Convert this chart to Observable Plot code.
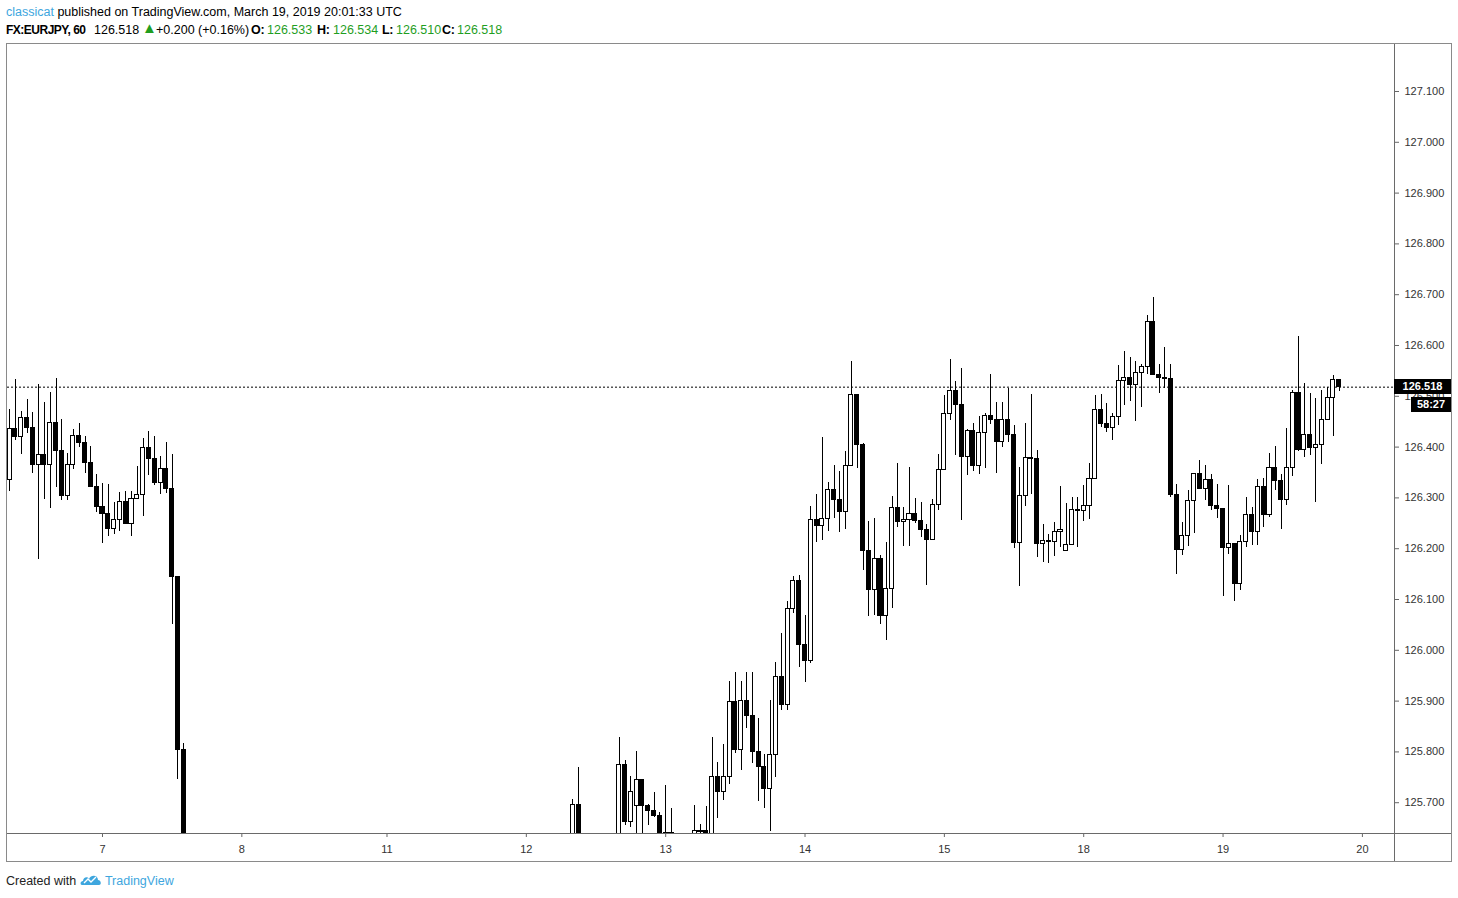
<!DOCTYPE html>
<html><head><meta charset="utf-8">
<script src="https://cdn.jsdelivr.net/npm/d3@7"></script>
<script src="https://cdn.jsdelivr.net/npm/@observablehq/plot@0.6"></script>
<style>
html,body{margin:0;padding:0;background:#fff;}
body{width:1458px;height:898px;position:relative;overflow:hidden;font-family:"Liberation Sans",Arial,sans-serif;color:#000;}
.hl{position:absolute;left:6px;font-size:12.5px;line-height:14px;white-space:nowrap;}
.hs{position:absolute;top:23px;font-size:12.5px;line-height:14px;white-space:nowrap;}
.g{color:#1f9e1f;}
.b{font-weight:bold;letter-spacing:-0.3px;}
#frame{position:absolute;left:6px;top:43px;width:1444px;height:817px;border:1px solid #8a8a8a;}
.sep{position:absolute;background:#6a6a6a;}
#chart{position:absolute;left:0;top:40px;}
.tag{position:absolute;background:#000;color:#fff;font-weight:bold;font-size:11px;text-align:center;line-height:15px;height:15px;}
#foot{position:absolute;left:6px;top:873px;font-size:12.5px;line-height:14px;white-space:nowrap;color:#222;}
</style></head>
<body>
<div class="hl" style="top:5px"><span style="color:#3ea6de">classicat</span> published on TradingView.com, March 19, 2019 20:01:33 UTC</div>
<span class="hs b" style="left:6px;font-size:12px;letter-spacing:-0.5px">FX:EURJPY, 60</span>
<span class="hs" style="left:94px">126.518</span>
<span class="hs g" style="left:142px;font-size:15px;top:21px">▲</span>
<span class="hs" style="left:156px">+0.200 (+0.16%)</span>
<span class="hs b" style="left:251px">O:</span><span class="hs g" style="left:267px">126.533</span>
<span class="hs b" style="left:317px">H:</span><span class="hs g" style="left:333px">126.534</span>
<span class="hs b" style="left:382px">L:</span><span class="hs g" style="left:396px">126.510</span>
<span class="hs b" style="left:442px">C:</span><span class="hs g" style="left:457px">126.518</span>
<div id="frame"></div>
<div id="chart"></div>
<div id="foot">Created with <svg width="22" height="14" viewBox="0 0 22 14" style="vertical-align:-2px"><path d="M2 12 C0 12 0 8 3 8 C3 4 8 3 9 6 C11 1 18 2 18 7 C21 7 22 12 19 12 Z" fill="#3ea6de"/><polyline points="4,10 8,6 11,9 16,4" fill="none" stroke="#fff" stroke-width="1.4"/></svg> <span style="color:#3ea6de">TradingView</span></div>
<script>
// hourly bar index: 0 = March 7, 00:00 UTC (gaps = bars outside the visible price range)
const barIndex = [-16,-15,-14,-13,-12,-11,-10,-9,-8,-7,-6,-5,-4,-3,-2,-1,0,1,2,3,4,5,6,7,8,9,10,11,12,13,14,
81,82,89,90,91,92,93,94,95,96,97,98,
102,103,104,105,106,107,108,109,110,111,112,113,114,115,116,117,118,119,120,
121,122,123,124,125,126,127,128,129,130,131,132,133,134,135,136,137,138,139,140,
141,142,143,144,145,146,147,148,149,150,151,152,153,154,155,156,157,158,159,160,
161,162,163,164,165,166,167,168,169,170,171,172,173,174,175,176,177,178,179,180,
181,182,183,184,185,186,187,188,189,190,191,192,193,194,195,196,197,198,199,200,
201,202,203,204,205,206,207,208,209,210,211,212,213];
const openP = [126.336,126.436,126.420,126.458,126.438,126.364,126.385,126.364,126.448,126.393,126.303,126.364,126.422,126.408,126.368,126.321,126.282,126.268,126.238,126.257,126.292,126.248,126.298,126.305,126.399,126.376,126.329,126.357,126.317,126.144,125.803,
125.600,125.696,125.600,125.775,125.662,125.693,125.745,125.694,125.683,125.673,125.630,125.641,
125.630,125.643,125.645,125.610,125.751,125.721,125.751,125.899,125.803,125.901,125.870,125.799,125.770,125.727,125.793,125.948,125.893,126.082,126.137,
126.011,125.979,126.257,126.245,126.259,126.316,126.296,126.272,126.363,126.503,126.405,126.195,126.118,126.180,126.067,126.121,126.281,126.252,126.257,126.269,
126.254,126.236,126.218,126.286,126.355,126.466,126.511,126.483,126.380,126.432,126.362,126.428,126.462,126.454,126.410,126.454,126.423,126.211,126.304,126.379,
126.376,126.209,126.216,126.213,126.233,126.196,126.208,126.277,126.275,126.284,126.338,126.473,126.446,126.437,126.460,126.531,126.536,126.522,126.546,126.558,
126.647,126.542,126.537,126.534,126.305,126.197,126.225,126.294,126.347,126.317,126.336,126.284,126.278,126.201,126.210,126.130,126.214,126.267,126.232,126.322,
126.267,126.359,126.334,126.296,126.359,126.507,126.395,126.424,126.399,126.405,126.454,126.497,126.533];
const highP = [126.474,126.534,126.470,126.494,126.469,126.523,126.487,126.507,126.536,126.454,126.387,126.434,126.446,126.421,126.401,126.347,126.328,126.326,126.291,126.311,126.313,126.313,126.362,126.417,126.431,126.421,126.381,126.409,126.385,126.144,125.817,
125.706,125.769,125.829,125.784,125.752,125.801,125.745,125.696,125.720,125.681,125.733,125.689,
125.694,125.657,125.692,125.828,125.779,125.815,125.939,125.956,125.939,125.956,125.956,125.865,125.795,125.901,125.976,126.033,126.096,126.145,126.147,
126.069,126.283,126.306,126.419,126.330,126.363,126.352,126.391,126.569,126.504,126.408,126.254,126.259,126.187,126.212,126.303,126.368,126.282,126.360,126.298,
126.290,126.248,126.296,126.385,126.502,126.572,126.529,126.555,126.435,126.446,126.460,126.466,126.543,126.488,126.488,126.515,126.443,126.359,126.446,126.504,
126.393,126.248,126.227,126.252,126.322,126.289,126.301,126.301,126.324,126.368,126.501,126.503,126.485,126.466,126.560,126.588,126.576,126.569,126.563,126.659,
126.694,126.563,126.596,126.563,126.326,126.251,126.314,126.347,126.374,126.364,126.346,126.326,126.278,126.324,126.210,126.226,126.301,126.281,126.336,126.338,
126.387,126.401,126.347,126.436,126.511,126.618,126.525,126.506,126.496,126.511,126.518,126.540,126.534];
const lowP = [126.313,126.413,126.385,126.427,126.349,126.178,126.297,126.279,126.321,126.294,126.295,126.355,126.400,126.349,126.320,126.272,126.211,126.224,126.228,126.234,126.247,126.224,126.298,126.264,126.344,126.324,126.307,126.309,126.051,125.746,125.580,
125.580,125.580,125.580,125.655,125.652,125.600,125.600,125.656,125.671,125.620,125.600,125.600,
125.600,125.600,125.600,125.590,125.669,125.704,125.736,125.797,125.763,125.847,125.778,125.703,125.689,125.644,125.750,125.881,125.881,126.072,125.966,
125.937,125.975,126.213,126.217,126.234,126.260,126.232,126.238,126.363,126.358,126.158,126.067,126.069,126.050,126.019,126.083,126.241,126.205,126.205,126.250,
126.223,126.128,126.218,126.276,126.355,126.453,126.384,126.256,126.345,126.351,126.347,126.357,126.444,126.349,126.400,126.410,126.201,126.126,126.284,126.307,
126.183,126.173,126.171,126.185,126.203,126.196,126.208,126.203,126.254,126.258,126.338,126.439,126.429,126.413,126.443,126.482,126.490,126.450,126.477,126.542,
126.542,126.506,126.516,126.300,126.149,126.187,126.204,126.229,126.317,126.294,126.275,126.260,126.105,126.189,126.097,126.118,126.203,126.206,126.206,126.242,
126.262,126.315,126.238,126.285,126.343,126.392,126.380,126.384,126.290,126.366,126.454,126.421,126.510];
const closeP = [126.436,126.420,126.458,126.438,126.364,126.385,126.364,126.448,126.393,126.303,126.364,126.422,126.408,126.368,126.321,126.282,126.268,126.238,126.257,126.292,126.248,126.298,126.305,126.399,126.376,126.329,126.357,126.317,126.144,125.803,125.600,
125.696,125.600,125.775,125.662,125.722,125.745,125.693,125.683,125.673,125.640,125.641,125.635,
125.645,125.645,125.632,125.751,125.721,125.751,125.899,125.803,125.901,125.870,125.799,125.770,125.727,125.793,125.948,125.893,126.082,126.137,126.011,
125.979,126.257,126.245,126.259,126.316,126.296,126.272,126.363,126.503,126.405,126.195,126.118,126.180,126.067,126.121,126.281,126.252,126.257,126.269,126.254,
126.236,126.218,126.286,126.355,126.466,126.511,126.483,126.380,126.432,126.362,126.428,126.462,126.454,126.410,126.454,126.423,126.211,126.304,126.379,126.376,
126.209,126.216,126.213,126.233,126.237,126.208,126.277,126.275,126.284,126.338,126.473,126.446,126.437,126.460,126.531,126.536,126.522,126.546,126.558,126.647,
126.542,126.537,126.534,126.305,126.197,126.225,126.294,126.347,126.317,126.336,126.284,126.278,126.201,126.210,126.130,126.214,126.267,126.232,126.322,126.267,
126.359,126.334,126.296,126.359,126.507,126.395,126.424,126.399,126.405,126.454,126.497,126.533,126.518];
const dayTickIndex = [0,24,49,73,97,121,145,169,193,217];
const dayTickLabels = ["7","8","11","12","13","14","15","18","19","20"];
const priceTicks = [125.7,125.8,125.9,126.0,126.1,126.2,126.3,126.4,126.5,126.6,126.7,126.8,126.9,127.0,127.1];
const lastPrice = 126.518;
const countdown = "58:27";

const bars = barIndex.map((k,i)=>({k, o:openP[i], h:highP[i], l:lowP[i], c:closeP[i]}));
const upBars = bars.filter(d=>d.c>=d.o);
const downBars = bars.filter(d=>d.c<d.o);
const xDom = [-16.362, 222.53];
const yDom = [125.6394, 127.1925];
const W = 1458, H = 825, mT = 4, mB = 32, mL = 7, mR = 64, top0 = 40;

const chart = Plot.plot({
  width: W, height: H, marginTop: mT, marginBottom: mB, marginLeft: mL, marginRight: mR,
  style: {fontFamily: '"Liberation Sans", Arial, sans-serif', fontSize: "11px", color: "#333", background: "transparent", overflow: "visible"},
  x: {type: "linear", domain: xDom},
  y: {type: "linear", domain: yDom},
  marks: [
    Plot.ruleY([lastPrice], {stroke: "#000", strokeDasharray: "2,2", strokeWidth: 1}),
    Plot.ruleX(bars, {x: "k", y1: "l", y2: "h", stroke: "#000", strokeWidth: 1, clip: true, shapeRendering: "crispEdges"}),
    Plot.rect(upBars, {x1: d=>d.k-0.35, x2: d=>d.k+0.35, y1: "o", y2: "c", fill: "#fff", stroke: "#000", strokeWidth: 1, clip: true, shapeRendering: "crispEdges"}),
    Plot.rect(downBars, {x1: d=>d.k-0.35, x2: d=>d.k+0.35, y1: "o", y2: "c", fill: "#000", stroke: "#000", strokeWidth: 1, clip: true, shapeRendering: "crispEdges"}),
    Plot.axisY(priceTicks, {anchor: "right", tickSize: 4, tickPadding: 6, tickFormat: d=>d.toFixed(3), label: null, stroke: "#666"}),
    Plot.axisX(dayTickIndex, {anchor: "bottom", tickSize: 4, tickPadding: 8, tickFormat: d=>dayTickLabels[dayTickIndex.indexOf(d)], label: null, stroke: "#666"})
  ]
});
document.getElementById("chart").appendChild(chart);

// separators between plot area and axes, at the scale edges
const xs = chart.scale("x"), ys = chart.scale("y");
const xr = Math.round(xs.apply(xDom[1])), yb = Math.round(ys.apply(yDom[0])) + top0;
const v = document.createElement("div"); v.className = "sep";
v.style.cssText = `left:${xr}px;top:44px;width:1px;height:817px;`;
document.body.appendChild(v);
const hsep = document.createElement("div"); hsep.className = "sep";
hsep.style.cssText = `left:7px;top:${yb}px;width:1444px;height:1px;`;
document.body.appendChild(hsep);

// last price tag and countdown
const yl = ys.apply(lastPrice) + top0;
const t1 = document.createElement("div"); t1.className = "tag"; t1.textContent = lastPrice.toFixed(3);
t1.style.cssText = `left:${xr}px;top:${Math.round(yl-7.5)}px;width:57px;`;
document.body.appendChild(t1);
const t2 = document.createElement("div"); t2.className = "tag"; t2.textContent = countdown;
t2.style.cssText = `left:${xr+17}px;top:${Math.round(yl+10)}px;width:40px;`;
document.body.appendChild(t2);
</script>
</body></html>
